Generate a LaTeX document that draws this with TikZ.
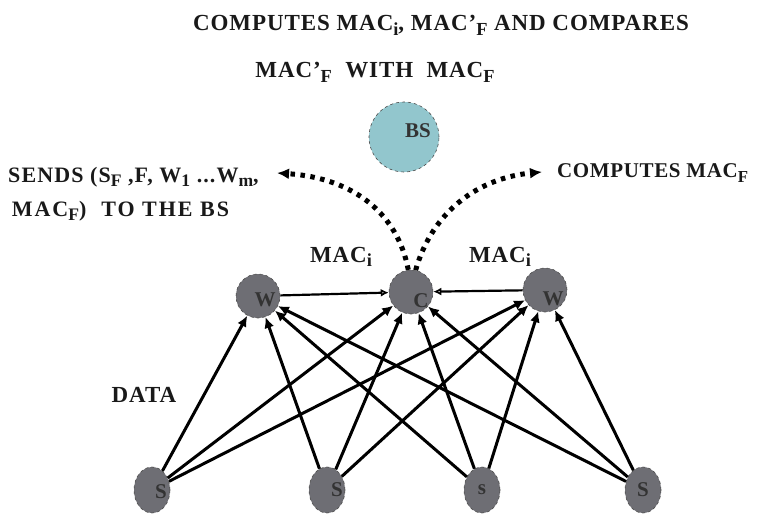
\documentclass[tikz,border=0pt]{standalone}
\usepackage{fontspec}
\usepackage{graphicx}
\setmainfont{Liberation Serif}
\usetikzlibrary{arrows.meta,shapes.geometric}
\newcommand{\lsub}[1]{\raisebox{-0.45ex}{\scalebox{0.8}{#1}}}
\definecolor{nodegray}{RGB}{110,110,116}
\definecolor{bsblue}{RGB}{146,198,205}
\tikzset{
  txt/.style={font=\bfseries\fontsize{23}{27}\selectfont\addfontfeature{LetterSpace=4}, inner sep=0pt, text=black!90},
  nlet/.style={font=\bfseries\fontsize{21}{24}\selectfont, text=black!80},
  gnode/.style={circle, fill=nodegray, draw=black!70, dashed, line width=0.6pt, minimum size=44pt, inner sep=0pt},
  snode/.style={ellipse, fill=nodegray, draw=black!70, dashed, line width=0.6pt, minimum width=36pt, minimum height=46pt, inner sep=0pt},
  bsnode/.style={circle, fill=bsblue, draw=black!70, dashed, line width=0.6pt, minimum size=70pt, inner sep=0pt},
  edge/.style={line width=3pt, -{Latex[length=11pt,width=10pt]}},
  wedge/.style={line width=2.2pt, -{Latex[open,length=8pt,width=8pt]}},
  dotarr/.style={line width=5pt, dash pattern=on 4.5pt off 5.5pt, -{Latex[length=12pt,width=11pt]}}
}
\begin{document}
\begin{tikzpicture}[x=1pt,y=-1pt]
\useasboundingbox (0,0) rectangle (759,516);
% texts
\node[txt] (t1) at (441,25) {COMPUTES MAC\lsub{i}, MAC'\lsub{F} AND COMPARES};
\node[txt] (t2) at (375,72) {MAC'\lsub{F}~ WITH~ MAC\lsub{F}};
\node[txt, anchor=west, align=left, font=\bfseries\fontsize{22}{26}\selectfont\addfontfeature{LetterSpace=5}] (sends) at (8,194) {SENDS (S\lsub{F} ,F, W\lsub{1} ...W\lsub{m},\\[8pt] \,{\addfontfeature{LetterSpace=9}MAC\lsub{F})~ TO THE BS}};
\node[txt, anchor=west, font=\bfseries\fontsize{21}{25}\selectfont\addfontfeature{LetterSpace=3}] (comp) at (557,173) {COMPUTES MAC\lsub{F}};
\node[txt] (m1) at (341,257) {MAC\lsub{i}};
\node[txt] (m2) at (500,257) {MAC\lsub{i}};
\node[txt] (data) at (144,395) {DATA};
% nodes
\node[bsnode, label={[nlet, xshift=14pt, yshift=6pt]center:BS}] (BS) at (404,137) {};
\node[gnode, label={[nlet, xshift=7pt, yshift=-4pt]center:W}] (W1) at (258,296) {};
\node[gnode, label={[nlet, xshift=10pt, yshift=-9pt]center:C}] (C) at (411,292) {};
\node[gnode, label={[nlet, xshift=8pt, yshift=-9pt]center:W}] (W2) at (545,290) {};
\node[snode, label={[nlet, xshift=9pt, yshift=-2pt]center:S}] (S1) at (152,490) {};
\node[snode, label={[nlet, xshift=10pt]center:S}] (S2) at (327,490) {};
\node[snode, label={[nlet]center:s}] (S3) at (482,490) {};
\node[snode, label={[nlet]center:S}] (S4) at (643,490) {};
% connectors
\foreach \s in {S1,S2,S3,S4}{
  \foreach \t in {W1,C,W2}{
    \draw[edge] (\s) -- (\t);
  }
}
\draw[wedge] (W1) -- (C);
\draw[wedge] (W2) -- (C);
\coordinate (lt) at (277,173);
\coordinate (rt) at (542,172);
\draw[dotarr] (C.97) .. controls (398,215) and (355,178) .. (lt);
\draw[dotarr] (C.78) .. controls (432,212) and (478,178) .. (rt);
\end{tikzpicture}
\end{document}
